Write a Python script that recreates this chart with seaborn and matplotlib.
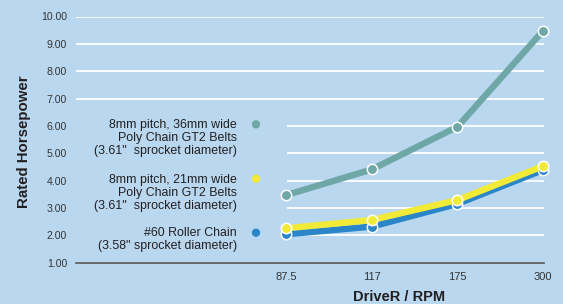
import matplotlib
matplotlib.use("Agg")
import matplotlib.pyplot as plt
import seaborn as sns
import pandas as pd
from matplotlib.patches import Rectangle

rpm = ["87.5", "117", "175", "300"]
gt2_36 = [3.47, 4.41, 5.97, 9.48]
gt2_21 = [2.26, 2.56, 3.29, 4.53]
roller = [2.04, 2.32, 3.15, 4.39]
series_names = ["36mm GT2", "Roller", "21mm GT2"]
legend_labels = {
    "36mm GT2": "8mm pitch, 36mm wide\nPoly Chain GT2 Belts\n(3.61\"  sprocket diameter)",
    "21mm GT2": "8mm pitch, 21mm wide\nPoly Chain GT2 Belts\n(3.61\"  sprocket diameter)",
    "Roller": "#60 Roller Chain\n(3.58\" sprocket diameter)",
}
yticks = [1, 2, 3, 4, 5, 6, 7, 8, 9, 10]

BG = "#b9d8f0"
colors = {"36mm GT2": "#6fa7a7", "21mm GT2": "#f1ea37", "Roller": "#2a86c9"}
TXT = "#231f20"

sns.set_theme(style="white")
plt.rcParams["font.family"] = ["Liberation Sans", "DejaVu Sans"]

df = pd.DataFrame({
    "rpm": rpm * 3,
    "hp": gt2_36 + roller + gt2_21,
    "series": ["36mm GT2"] * 4 + ["Roller"] * 4 + ["21mm GT2"] * 4,
})

fig = plt.figure(figsize=(5.63, 3.04), dpi=100, facecolor=BG)
ax = fig.add_axes([76 / 563, 1 - 262.7 / 304, 468 / 563, 246.2 / 304])
ax.set_facecolor(BG)

for i, name in enumerate(series_names):
    sub = df[df["series"] == name]
    sns.lineplot(data=sub, x="rpm", y="hp", ax=ax, color=colors[name],
                 linewidth=4.6, marker="o", markersize=7.5,
                 markeredgecolor="white", markeredgewidth=1.1,
                 markerfacecolor=colors[name], zorder=3 + i, clip_on=False,
                 solid_capstyle="butt", sort=False)

ax.set_ylim(1, 10)
ax.set_xlim(-2.454, 3.01)
ax.set_yticks(yticks)
ax.set_yticklabels([f"{v:.2f}" for v in yticks])
ax.grid(axis="y", color="white", linewidth=1.3)
ax.grid(axis="x", visible=False)
ax.set_axisbelow(True)
for s in ["top", "right", "left"]:
    ax.spines[s].set_visible(False)
ax.spines["bottom"].set_color("#555555")
ax.spines["bottom"].set_linewidth(1.2)
ax.spines["bottom"].set_zorder(2)
ax.tick_params(axis="y", length=0, pad=6.5, labelsize=7.6, labelcolor="#333333")
ax.tick_params(axis="x", length=0, pad=7, labelsize=8, labelcolor="#333333")

# cover gridlines behind the legend block
ax.add_patch(Rectangle((0, (1.25 - 1) / 9), 0.451, (6.55 - 1.25) / 9,
                       transform=ax.transAxes, facecolor=BG, edgecolor="none",
                       zorder=1))

ax.set_ylabel("Rated Horsepower", fontsize=10.8, fontweight="bold", color=TXT)
ax.yaxis.set_label_coords(-(76 - 31.5) / 468, (262.7 - 142) / 246.2)
ax.set_xlabel("DriveR / RPM", fontsize=10.5, fontweight="bold", color=TXT)
ax.xaxis.set_label_coords((399 - 76) / 468, -(297 - 262.7) / 246.2)
ax.xaxis.label.set_va("center")

# legend
def fy(py):
    return (262.7 - py) / 246.2

tx = (237 - 76) / 468
mx = (256 - 76) / 468
leg_pos = {"36mm GT2": (138.0, 124.3), "21mm GT2": (192.7, 178.7), "Roller": (239.5, 232.7)}
for name in ["36mm GT2", "21mm GT2", "Roller"]:
    cy, my = leg_pos[name]
    ax.text(tx, fy(cy), legend_labels[name], transform=ax.transAxes,
            ha="right", va="center", multialignment="right",
            fontsize=8.9, color=TXT, linespacing=1.12, zorder=5)
    ax.scatter([mx], [fy(my)], transform=ax.transAxes, s=36,
               color=colors[name], edgecolor="none", zorder=5)

fig.savefig("out.png", dpi=100, facecolor=BG)
